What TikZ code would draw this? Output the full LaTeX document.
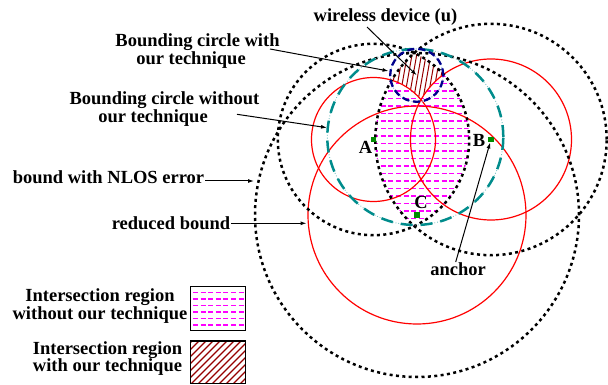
\documentclass[tikz,border=0pt]{standalone}
\usepackage{fontspec}
\setmainfont{Liberation Serif}
\usetikzlibrary{arrows.meta}
\definecolor{myteal}{RGB}{0,140,140}
\definecolor{lteal}{RGB}{110,190,190}
\definecolor{mynavy}{RGB}{0,0,140}
\definecolor{lnavy}{RGB}{110,150,230}
\definecolor{mymag}{RGB}{255,0,255}
\definecolor{hatchc}{RGB}{150,0,0}
\definecolor{mygreen}{RGB}{0,140,0}
\begin{document}
\begin{tikzpicture}[x=1pt,y=-1pt,
  lbl/.style={font=\bfseries\fontsize{18.5}{15.5}\selectfont, inner sep=0pt, text=black},
  magdash/.style={mymag, line width=1.8pt, dash pattern=on 5pt off 2.6pt},
  hatchline/.style={hatchc, line width=1pt},
  redc/.style={red, line width=1.2pt},
  blkdot/.style={black, line width=2.5pt, dash pattern=on 3pt off 3.4pt},
  tealdash/.style={myteal, line width=2.5pt, dash pattern=on 12pt off 8pt},
  tealdot/.style={lteal, line width=0.9pt, dash pattern=on 0.8pt off 2pt},
  navydash/.style={mynavy, line width=2.3pt, dash pattern=on 7pt off 4pt},
  navydot/.style={lnavy, line width=0.9pt, dash pattern=on 0.8pt off 1.8pt},
  anch/.style={fill=mygreen, minimum size=5.5pt, inner sep=0pt},
  arr/.style={black, line width=1pt, -{Latex[length=6pt,width=4pt]}},
  box/.style={draw=black, line width=1.5pt}]
\useasboundingbox (0,0) rectangle (608,385);
\coordinate (cA) at (373.5,139.5);
\coordinate (cB) at (491,139.5);
\coordinate (cC) at (417,215);
\coordinate (cT) at (415.3,137);
\coordinate (cU) at (416.7,75.3);

% intersection region without our technique
\begin{scope}
  \clip (cA) circle[radius=95.7pt];
  \clip (cB) circle[radius=115.7pt];
  \clip (cC) circle[radius=162pt];
  \foreach \y in {46,53.5,...,245} \draw[magdash] (320,\y) -- (520,\y);
\end{scope}

% intersection region with our technique
\begin{scope}
  \clip (cA) circle[radius=95.7pt];
  \clip (cB) circle[radius=115.7pt];
  \clip (cU) circle[radius=26.5pt];
  \fill[white] (380,40) rectangle (460,110);
  \foreach \s in {360,364.7,...,470} \draw[hatchline] (\s,110) -- ++(12.3,-70);
  \fill[white] (cA) circle[radius=62pt];
  \fill[white] (cB) circle[radius=80.5pt];
  \begin{scope}
    \clip (cA) circle[radius=62pt];
    \foreach \y in {46,53.5,...,120} \draw[magdash] (320,\y) -- (520,\y);
  \end{scope}
  \begin{scope}
    \clip (cB) circle[radius=80.5pt];
    \foreach \y in {46,53.5,...,120} \draw[magdash] (320,\y) -- (520,\y);
  \end{scope}
\end{scope}

% circles
\draw[redc] (cA) circle[radius=62pt];
\draw[redc] (cB) circle[radius=80.5pt];
\draw[redc] (cC) circle[radius=109pt];
\draw[blkdot] (cA) circle[radius=95.7pt];
\draw[blkdot] (cB) circle[radius=115.7pt];
\draw[blkdot] (cC) circle[radius=162pt];
\draw[tealdot] (cT) circle[radius=88pt];
\draw[tealdash] (cT) circle[radius=88pt];
\draw[navydot] (cU) circle[radius=26.5pt];
\draw[navydash] (cU) circle[radius=26.5pt];

% anchors
\node[anch] (A) at (cA) {};
\node[anch] (B) at (cB) {};
\node[anch] (C) at (cC) {};
\node[lbl] (Al) at (365.5,147) {A};
\node[lbl] (Bl) at (479,140) {B};
\node[lbl] (Cl) at (421,202) {C};

% labels
\node[lbl, anchor=base] (wd) at (385.5,22) {wireless device (u)};
\node[lbl, align=center] (bcw) at (197.5,51) {Bounding circle with\\our technique\hspace*{13pt}};
\node[lbl, align=center] (bcwo) at (164.5,109.5) {Bounding circle without\\our technique\hspace*{23pt}};
\node[lbl, anchor=base] (nlos) at (108.5,184) {bound with NLOS error};
\node[lbl, anchor=base] (red) at (171,229.5) {reduced bound};
\node[lbl, anchor=base] (anc) at (458,275.5) {anchor};

% arrows
\coordinate (s1) at (367,27);
\draw[arr] (s1) -- (cU);
\coordinate (s2) at (270,49);
\coordinate (e2) at (388.5,71);
\draw[arr] (s2) -- (e2);
\coordinate (s3) at (237,114.3);
\coordinate (e3) at (327,127.7);
\draw[arr] (s3) -- (e3);
\coordinate (s4) at (205,181);
\coordinate (e4) at (254,181);
\draw[arr] (s4) -- (e4);
\coordinate (s5) at (231,223.3);
\coordinate (e5) at (306.5,223.3);
\draw[arr] (s5) -- (e5);
\coordinate (s6) at (455.7,262);
\draw[arr] (s6) -- (B);

% legend
\node[lbl, align=center] (leg1) at (100,306) {Intersection region\\without our technique};
\node[lbl, align=center, font=\bfseries\fontsize{18.5}{17.5}\selectfont] (leg2) at (107.5,358.5) {Intersection region\\with our technique};
\begin{scope}
  \clip (190.7,286.7) rectangle (245.7,330.7);
  \fill[white] (190.7,286.7) rectangle (245.7,330.7);
  \foreach \y in {292.5,299,...,330} \draw[magdash] (193,\y) -- (250,\y);
\end{scope}
\node[box, minimum width=55pt, minimum height=44pt, inner sep=0pt] (box1) at (218.2,308.7) {};
\begin{scope}
  \clip (190.7,341) rectangle (245.7,383.3);
  \fill[white] (190.7,341) rectangle (245.7,383.3);
  \foreach \s in {140,147,...,250} \draw[hatchc, line width=1.3pt] (\s,386) -- ++(48,-48);
\end{scope}
\node[box, minimum width=55pt, minimum height=42.3pt, inner sep=0pt] (box2) at (218.2,362.2) {};
\end{tikzpicture}
\end{document}
